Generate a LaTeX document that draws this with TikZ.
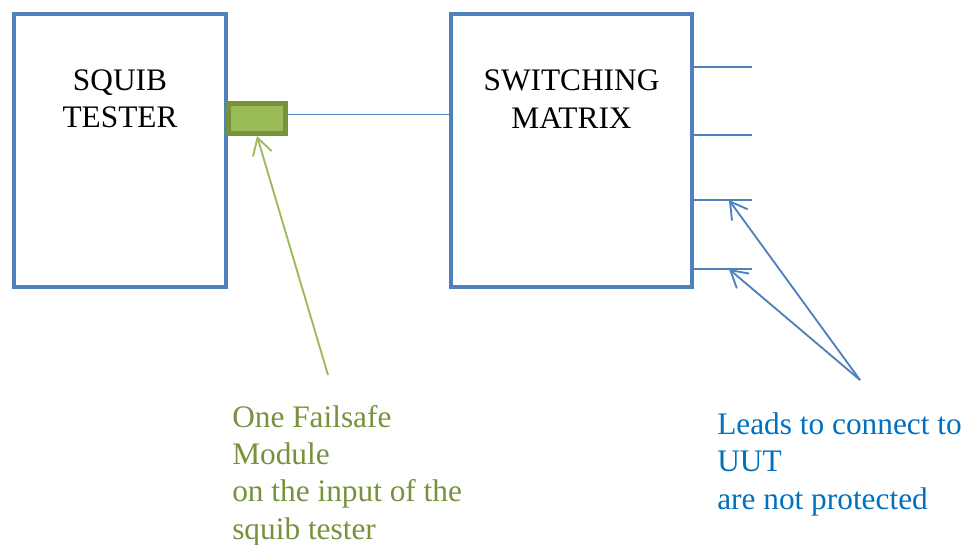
\documentclass[tikz,border=0pt]{standalone}
\usepackage{fontspec}
\setmainfont{Liberation Serif}
\usetikzlibrary{arrows.meta,calc,positioning}
\definecolor{FrameBlue}{HTML}{4F81BD}
\definecolor{LeafGreen}{HTML}{9BBB59}
\definecolor{OliveEdge}{HTML}{76923C}
\definecolor{NoteBlue}{HTML}{0070C0}

\begin{document}
\begin{tikzpicture}[x=0.75pt,y=-0.75pt,every node/.style={font=\fontsize{23.5}{28}\selectfont},unitbox/.style={draw=FrameBlue,line width=3.4pt,fill=white,minimum height=204.75pt},wire/.style={draw=FrameBlue,line width=1.4pt},note/.style={align=left,anchor=base west,inner sep=0pt},bluearrow/.style={-{Straight Barb[length=12.5pt,width=14.5pt]},line width=1.4pt,draw=FrameBlue},greenarrow/.style={-{Straight Barb[length=12.5pt,width=14.5pt]},line width=1.4pt,draw=LeafGreen}]
\useasboundingbox (0,0) rectangle (969,545);

\node[unitbox,minimum width=159pt] (tester) at (120,150.5) {};
\node[unitbox,minimum width=180.75pt] (matrix) at (571.5,150.5) {};
\node[align=center] (testerlabel) at (120,99) {SQUIB\\TESTER};
\node[align=center] (matrixlabel) at (571.5,99) {SWITCHING\\MATRIX};
\node[draw=OliveEdge,fill=LeafGreen,line width=3.75pt,minimum width=42.75pt,minimum height=22.5pt,inner sep=0pt] (module) at (257,118.5) {};
\draw[wire] ([yshift=3pt]module.east) -- ([yshift=3pt]module.east -| matrix.west);

% leads out of the matrix
\foreach \y [count=\i] in {67,135,200,269} {
  \coordinate (lead\i) at (752,\y);
  \draw[wire] (matrix.east |- lead\i) -- (lead\i);
}
\coordinate (tip3) at ($(matrix.east |- lead3)!0.6!(lead3)$);
\coordinate (tip4) at ($(matrix.east |- lead4)!0.6!(lead4)$);
\coordinate (leadsfoot) at (860,380);
\coordinate (modulefoot) at (328,375);
\draw[bluearrow] (leadsfoot) -- (tip3);
\draw[bluearrow] (leadsfoot) -- (tip4);
\draw[greenarrow] (modulefoot) -- (module.south);

\node[note,text=OliveEdge] (modulenote) at (232,539) {One Failsafe\\Module\\on the input of the\\squib tester};
\node[note,text=NoteBlue] (leadsnote) at (717,509) {Leads to connect to\\UUT\\are not protected};

\end{tikzpicture}
\end{document}
